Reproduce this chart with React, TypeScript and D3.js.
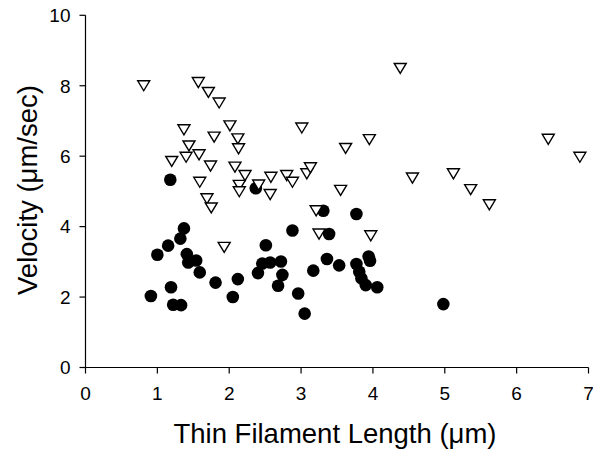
import React from "react";
import * as d3 from "d3";

const xTicks = [0, 1, 2, 3, 4, 5, 6, 7];
const yTicks = [0, 2, 4, 6, 8, 10];

// Open triangles
const triX = [0.81, 1.57, 1.71, 1.86, 1.37, 2.01, 3.01, 1.79, 2.12, 1.44, 2.13, 1.40, 1.58, 1.20, 1.74, 2.08, 2.22, 1.59, 2.14, 2.14, 2.41, 2.58, 2.57, 2.80, 2.88, 3.08, 3.13, 1.69, 1.75, 1.93, 3.21, 3.25, 3.55, 3.62, 3.95, 4.38, 4.55, 5.12, 5.36, 5.62, 3.97, 6.44, 6.88];
const triY = [8.00, 8.09, 7.81, 7.51, 6.75, 6.86, 6.80, 6.54, 6.49, 6.29, 6.21, 5.97, 6.04, 5.85, 5.72, 5.69, 5.45, 5.26, 5.17, 4.99, 5.18, 5.40, 4.91, 5.45, 5.26, 5.50, 5.67, 4.79, 4.53, 3.41, 4.45, 3.79, 5.03, 6.22, 6.47, 8.49, 5.38, 5.50, 5.05, 4.62, 3.74, 6.48, 5.97];

// Filled circles
const dotX = [1.18, 2.37, 1.37, 1.32, 1.15, 1.00, 1.41, 1.54, 1.43, 1.59, 1.81, 2.12, 2.51, 2.46, 2.57, 2.72, 2.40, 2.74, 2.68, 1.19, 0.91, 2.05, 1.22, 1.33, 2.96, 3.05, 2.88, 3.31, 3.39, 3.36, 3.17, 3.53, 3.77, 3.77, 3.94, 3.96, 3.81, 3.84, 3.90, 4.06, 4.98];
const dotY = [5.33, 5.09, 3.95, 3.66, 3.46, 3.20, 3.22, 3.04, 2.98, 2.70, 2.41, 2.51, 3.47, 2.95, 2.98, 3.01, 2.68, 2.63, 2.32, 2.28, 2.03, 2.00, 1.78, 1.77, 2.10, 1.53, 3.89, 4.45, 3.79, 3.08, 2.75, 2.90, 4.36, 2.94, 3.15, 3.03, 2.72, 2.53, 2.34, 2.28, 1.80];

const W = 593;
const H = 451;
const left = 85.5;
const right = 588.5;
const top = 15.3;
const bottom = 367.5;

export default function App() {
  const x = d3.scaleLinear().domain([0, 7]).range([left, right]);
  const y = d3.scaleLinear().domain([0, 10]).range([bottom, top]);
  const font = "'Liberation Sans', Arial, sans-serif";
  const triPath = "M-6,-5L6,-5L0,5Z";

  return (
    <svg
      width={W}
      height={H}
      style={{ position: "absolute", left: 0, top: 0, background: "#fff" }}
      fontFamily={font}
    >
      <rect x={0} y={0} width={W} height={H} fill="#fff" />
      {/* axes */}
      <line x1={left} x2={left} y1={top} y2={bottom} stroke="#000" strokeWidth={1.2} />
      <line x1={left} x2={right} y1={bottom} y2={bottom} stroke="#000" strokeWidth={1.2} />
      {xTicks.map((t) => (
        <g key={"xt" + t}>
          <line x1={x(t)} x2={x(t)} y1={bottom} y2={bottom + 6} stroke="#000" strokeWidth={1.2} />
          <text x={x(t)} y={400} textAnchor="middle" fontSize={19} fill="#000">
            {t}
          </text>
        </g>
      ))}
      {yTicks.map((t) => (
        <g key={"yt" + t}>
          <line x1={left - 6} x2={left} y1={y(t)} y2={y(t)} stroke="#000" strokeWidth={1.2} />
          <text x={70.5} y={y(t) + 6.8} textAnchor="end" fontSize={19} fill="#000">
            {t}
          </text>
        </g>
      ))}
      {/* data */}
      {dotX.map((v, i) => (
        <circle key={"d" + i} cx={x(v)} cy={y(dotY[i])} r={6.3} fill="#000" />
      ))}
      {triX.map((v, i) => (
        <path
          key={"t" + i}
          d={triPath}
          transform={`translate(${x(v)},${y(triY[i])})`}
          fill="#fff"
          stroke="#000"
          strokeWidth={1.4}
          strokeLinejoin="miter"
        />
      ))}
      {/* titles */}
      <text x={335} y={443.3} textAnchor="middle" fontSize={27.5} fill="#000">
        Thin Filament Length (μm)
      </text>
      <text
        transform={`translate(37,190) rotate(-90)`}
        textAnchor="middle"
        fontSize={27.5}
        fill="#000"
      >
        Velocity (μm/sec)
      </text>
    </svg>
  );
}
